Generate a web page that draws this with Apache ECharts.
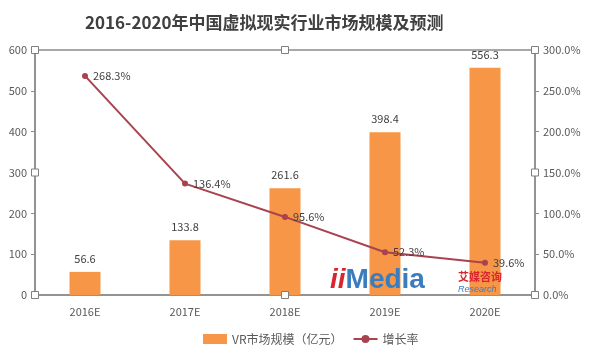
<!DOCTYPE html>
<html><head><meta charset="utf-8">
<script src="https://cdn.jsdelivr.net/npm/echarts@6/dist/echarts.min.js"></script>
<style>html,body{margin:0;padding:0;background:#fff}#c{width:600px;height:355px}</style>
</head><body><div id="c"></div>
<script>
const categories = ['2016E','2017E','2018E','2019E','2020E'];
const marketSize = [56.6, 133.8, 261.6, 398.4, 556.3];
const growthRate = [268.3, 136.4, 95.6, 52.3, 39.6];
const titleText = '2016-2020年中国虚拟现实行业市场规模及预测';
const seriesNames = ['VR市场规模（亿元）', '增长率'];

const font = '"Microsoft YaHei","Noto Sans CJK SC","Noto Sans",sans-serif';
const chart = echarts.init(document.getElementById('c'));
const axisGray = '#8c8c8c';
chart.setOption({
  backgroundColor: '#ffffff',
  animation: false,
  title: {
    text: titleText, left: 80, top: 9,
    textStyle: { fontFamily: font, fontSize: 17, fontWeight: 'bold', color: '#404040' }
  },
  legend: {
    bottom: 5, left: 198, itemGap: 10, itemWidth: 24, itemHeight: 10,
    textStyle: { fontFamily: font, fontSize: 12, color: '#595959' },
    data: [{ name: seriesNames[0], icon: 'rect' }, { name: seriesNames[1] }]
  },
  grid: { left: 35, right: 65, top: 50, bottom: 60, show: true, borderColor: axisGray, borderWidth: 1.5, backgroundColor: 'transparent' },
  xAxis: {
    type: 'category', data: categories,
    axisLine: { lineStyle: { color: axisGray, width: 1.5 } },
    axisTick: { show: false },
    axisLabel: { fontFamily: font, fontSize: 11, color: '#595959', margin: 11 }
  },
  yAxis: [
    { type: 'value', min: 0, max: 600, interval: 100,
      axisLine: { show: true, lineStyle: { color: axisGray, width: 1.5 } },
      axisTick: { show: true, length: 4, lineStyle: { color: axisGray } },
      splitLine: { show: false },
      axisLabel: { fontFamily: font, fontSize: 11, color: '#595959', margin: 8 } },
    { type: 'value', min: 0, max: 300, interval: 50, position: 'right',
      axisLine: { show: true, lineStyle: { color: axisGray, width: 1.5 } },
      axisTick: { show: true, length: 4, lineStyle: { color: axisGray } },
      splitLine: { show: false },
      axisLabel: { fontFamily: font, fontSize: 11, color: '#595959', margin: 8,
        formatter: v => v.toFixed(1) + '%' } }
  ],
  series: [
    { name: seriesNames[0], type: 'bar', data: marketSize, barWidth: '31%',
      itemStyle: { color: '#F79646' },
      label: { show: true, position: 'top', distance: 8, fontFamily: font, fontSize: 11, color: '#404040',
        formatter: p => p.value.toFixed(1) } },
    { name: seriesNames[1], type: 'line', yAxisIndex: 1, data: growthRate,
      symbol: 'circle', symbolSize: 6,
      lineStyle: { color: '#A8434F', width: 2 }, itemStyle: { color: '#A8434F' },
      label: { show: true, position: 'right', distance: 5, fontFamily: font, fontSize: 11, color: '#404040',
        formatter: p => p.value.toFixed(1) + '%' } }
  ]
});

// selection handles (decorative) placed via the axes' own scales
const handles = [];
const sq = (x, y) => ({ type: 'rect', shape: { x: x - 3.5, y: y - 3.5, width: 7, height: 7 },
  style: { fill: '#fff', stroke: '#7f7f7f', lineWidth: 1 }, z: 100 });
[0, 300, 600].forEach(v => { const p = chart.convertToPixel({ yAxisIndex: 0 }, v); handles.push(sq(35, p)); });
[0, 150, 300].forEach(v => { const p = chart.convertToPixel({ yAxisIndex: 1 }, v); handles.push(sq(535, p)); });
const midX = chart.convertToPixel({ xAxisIndex: 0 }, categories[2]);
handles.push(sq(midX, 50)); handles.push(sq(midX, 295));
handles.push({ type: 'text', left: 330, top: 266, z: 50,
  style: { text: '{a|ii}{b|Media}', rich: {
    a: { fontSize: 28, fontWeight: 'bold', fontStyle: 'italic', fill: '#D8262E', fontFamily: 'Liberation Sans' },
    b: { fontSize: 28, fontWeight: 'bold', fill: '#3A7DBF', fontFamily: 'Liberation Sans' } } } });
handles.push({ type: 'text', left: 458, top: 271, z: 50,
  style: { text: '艾媒咨询', fontSize: 11, fontWeight: 'bold', fill: '#D8262E', fontFamily: font } });
handles.push({ type: 'text', left: 458, top: 285, z: 50,
  style: { text: 'Research', fontSize: 9, fontStyle: 'italic', fill: '#3A7DBF', fontFamily: 'Liberation Sans' } });
chart.setOption({ graphic: handles });
</script></body></html>
